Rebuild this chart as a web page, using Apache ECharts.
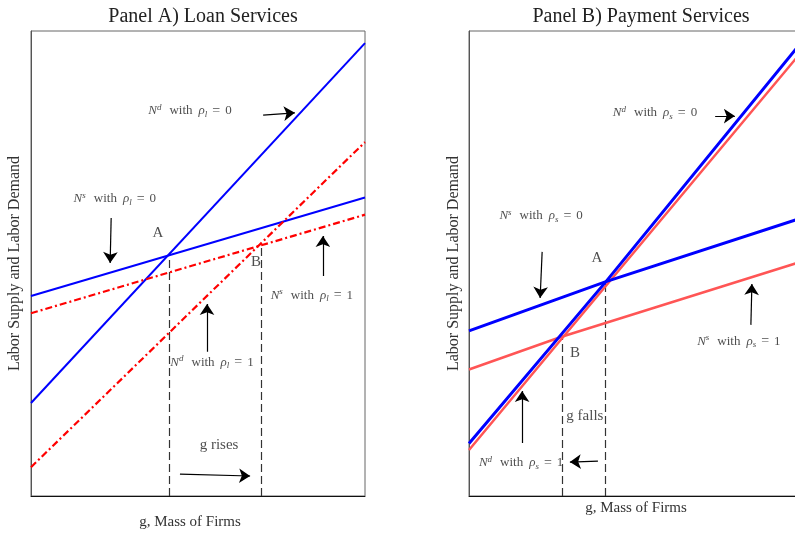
<!DOCTYPE html>
<html><head><meta charset="utf-8">
<script src="https://cdn.jsdelivr.net/npm/echarts@6/dist/echarts.min.js"></script>
<style>html,body{margin:0;padding:0;background:#fff}#c{width:795px;height:536px}</style>
</head><body><div id="c"></div>
<script>
// ---------- Panel A: Loan Services ----------
const aG = [0, 10];
const aNdRho0 = [2.0, 9.74];
const aNsRho0 = [4.30, 6.42];
const aNdRho1 = [0.62, 7.61];
const aNsRho1 = [3.93, 6.05];
const aEqG = [4.13, 6.89];   // A, B
const aEqV = [5.23, 5.40];
const aLabelText = [
  '{i|N}{sup|d}{w|with}{i|ρ}{sub|l}{eq|=}{r|0}',
  '{i|N}{sup|s}{w|with}{i|ρ}{sub|l}{eq|=}{r|0}',
  '{big|A}', '{big|B}',
  '{i|N}{sup|s}{w|with}{i|ρ}{sub|l}{eq|=}{r|1}',
  '{i|N}{sup|d}{w|with}{i|ρ}{sub|l}{eq|=}{r|1}',
  '{big|g rises}'
];
const aLabelG = [4.76, 2.51, 3.80, 6.74, 8.41, 5.42, 5.63];
const aLabelV = [8.28, 6.39, 5.66, 5.03, 4.32, 2.88, 1.10];
const aArrowFrom = [[6.95, 8.19], [2.40, 5.98], [8.74, 4.73], [5.27, 3.10], [4.46, 0.47]];
const aArrowTo   = [[7.90, 8.24], [2.37, 5.01], [8.74, 5.59], [5.27, 4.13], [6.56, 0.43]];

// ---------- Panel B: Payment Services ----------
const bNdRho0G = [0, 4.1, 10];  const bNdRho0 = [1.13, 4.61, 9.80];
const bNsRho0G = [0, 4.1, 10];  const bNsRho0 = [3.55, 4.61, 5.99];
const bNdRho1G = [0, 2.75, 10]; const bNdRho1 = [0.99, 3.36, 9.59];
const bNsRho1G = [0, 2.75, 10]; const bNsRho1 = [2.72, 3.42, 5.05];
const bEqG = [4.07, 2.80];   // A, B
const bEqV = [4.60, 3.42];
const bLabelText = [
  '{i|N}{sup|d}{w|with}{i|ρ}{sub|s}{eq|=}{r|0}',
  '{i|N}{sup|s}{w|with}{i|ρ}{sub|s}{eq|=}{r|0}',
  '{big|A}', '{big|B}',
  '{i|N}{sup|s}{w|with}{i|ρ}{sub|s}{eq|=}{r|1}',
  '{big|g falls}',
  '{i|N}{sup|d}{w|with}{i|ρ}{sub|s}{eq|=}{r|1}'
];
const bLabelG = [5.57, 2.16, 3.83, 3.17, 8.08, 3.47, 1.56];
const bLabelV = [8.24, 6.02, 5.12, 3.08, 3.33, 1.72, 0.71];
const bArrowFrom = [[7.37, 8.17], [2.19, 5.25], [8.44, 3.68], [1.59, 1.14], [3.86, 0.75]];
const bArrowTo   = [[7.96, 8.17], [2.13, 4.26], [8.47, 4.56], [1.59, 2.26], [3.02, 0.73]];

const FONT = 'Liberation Serif';
const TXT = '#222';
const rich = {
  i:   {fontFamily: FONT, fontStyle: 'italic', fontSize: 13, color: TXT, lineHeight: 16},
  r:   {fontFamily: FONT, fontSize: 13, color: TXT, lineHeight: 16},
  w:   {fontFamily: FONT, fontSize: 13, color: TXT, lineHeight: 16, padding: [0, 6, 0, 8]},
  eq:  {fontFamily: FONT, fontSize: 14, color: TXT, lineHeight: 16, padding: [0, 5, 0, 5]},
  sup: {fontFamily: FONT, fontStyle: 'italic', fontSize: 9, color: TXT, lineHeight: 9, verticalAlign: 'top'},
  sub: {fontFamily: FONT, fontStyle: 'italic', fontSize: 9, color: TXT, lineHeight: 9, verticalAlign: 'bottom'},
  big: {fontFamily: FONT, fontSize: 15, color: TXT, lineHeight: 18}
};

const zip = (xs, ys) => xs.map((x, i) => [x, ys[i]]);

function lineSeries(idx, xs, ys, color, width, type) {
  return {
    type: 'line', xAxisIndex: idx, yAxisIndex: idx, data: zip(xs, ys),
    symbol: 'none', smooth: false, animation: false, z: 3,
    lineStyle: {color: color, width: width, type: type || 'solid'}
  };
}
function dashSeries(idx, gs, vs) {
  return {
    type: 'lines', coordinateSystem: 'cartesian2d', xAxisIndex: idx, yAxisIndex: idx,
    data: gs.map((g, i) => ({coords: [[g, 0], [g, vs[i]]]})),
    symbol: ['none', 'none'], animation: false, z: 2,
    lineStyle: {color: '#333', width: 1.2, type: [8, 4], opacity: 1}
  };
}
function arrowSeries(idx, from, to) {
  return {
    type: 'lines', coordinateSystem: 'cartesian2d', xAxisIndex: idx, yAxisIndex: idx,
    data: from.map((f, i) => ({coords: [f, to[i]]})),
    symbol: ['none', 'arrow'], symbolSize: [7, 11], animation: false, z: 4,
    lineStyle: {color: '#000', width: 1.2, opacity: 1}
  };
}
function labelSeries(idx, texts, gs, vs) {
  return {
    type: 'scatter', xAxisIndex: idx, yAxisIndex: idx, data: zip(gs, vs),
    symbolSize: 1, itemStyle: {color: 'rgba(0,0,0,0)'}, animation: false, z: 5,
    label: {show: true, position: 'inside', formatter: p => texts[p.dataIndex], rich: rich}
  };
}

const grids = [
  {left: 31, top: 31, width: 334, height: 465, show: true, borderColor: '#666', borderWidth: 1,
   outerBoundsMode: 'none', containLabel: false},
  {left: 469, top: 31, width: 334, height: 465, show: true, borderColor: '#666', borderWidth: 1,
   outerBoundsMode: 'none', containLabel: false}
];
function xAx(idx, gap, pad) {
  return {
    gridIndex: idx, type: 'value', min: 0, max: 10,
    name: 'g, Mass of Firms', nameLocation: 'middle', nameGap: gap,
    nameTextStyle: {fontFamily: FONT, fontSize: 15, color: '#333', padding: pad},
    axisLine: {show: true, lineStyle: {color: '#111', width: 1}},
    axisTick: {show: false}, axisLabel: {show: false}, splitLine: {show: false}
  };
}
function yAx(idx, gap) {
  return {
    gridIndex: idx, type: 'value', min: 0, max: 10,
    name: 'Labor Supply and Labor Demand', nameLocation: 'middle', nameGap: gap,
    nameTextStyle: {fontFamily: FONT, fontSize: 16, color: '#333'},
    axisLine: {show: true, lineStyle: {color: '#555', width: 1}},
    axisTick: {show: false}, axisLabel: {show: false}, splitLine: {show: false}
  };
}

const option = {
  backgroundColor: '#fff',
  animation: false,
  title: [
    {text: 'Panel A) Loan Services', left: 198, top: 2, textAlign: 'center',
     textStyle: {fontFamily: FONT, fontSize: 20, fontWeight: 'normal', color: '#222'}},
    {text: 'Panel B) Payment Services', left: 636, top: 2, textAlign: 'center',
     textStyle: {fontFamily: FONT, fontSize: 20, fontWeight: 'normal', color: '#222'}}
  ],
  grid: grids,
  xAxis: [xAx(0, 19, [0, 16, 0, 0]), xAx(1, 5, [0, 0, 0, 0])],
  yAxis: [yAx(0, 8), yAx(1, 7)],
  series: [
    dashSeries(0, aEqG, aEqV),
    lineSeries(0, aG, aNdRho0, '#0000ff', 2),
    lineSeries(0, aG, aNsRho0, '#0000ff', 2),
    lineSeries(0, aG, aNdRho1, '#ff0000', 2.2, [7, 3, 2, 3]),
    lineSeries(0, aG, aNsRho1, '#ff0000', 2.2, [7, 3, 2, 3]),
    arrowSeries(0, aArrowFrom, aArrowTo),
    labelSeries(0, aLabelText, aLabelG, aLabelV),

    dashSeries(1, bEqG, bEqV),
    lineSeries(1, bNdRho1G, bNdRho1, '#ff5555', 2.5),
    lineSeries(1, bNsRho1G, bNsRho1, '#ff5555', 2.5),
    lineSeries(1, bNdRho0G, bNdRho0, '#0000ff', 3),
    lineSeries(1, bNsRho0G, bNsRho0, '#0000ff', 3),
    arrowSeries(1, bArrowFrom, bArrowTo),
    labelSeries(1, bLabelText, bLabelG, bLabelV)
  ]
};
const chart = echarts.init(document.getElementById('c'), null, {renderer: 'canvas'});
chart.setOption(option);
</script></body></html>
